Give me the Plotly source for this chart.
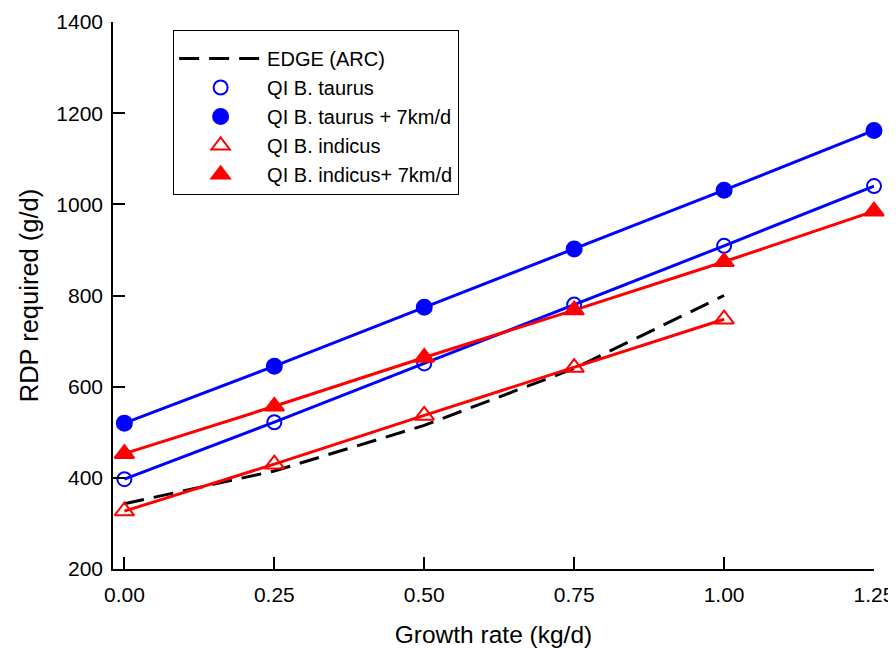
import plotly.graph_objects as go

# growth rate (kg/d)
growth = [0.0, 0.25, 0.50, 0.75, 1.00, 1.25]
growth_edge = [0.0, 0.25, 0.50, 0.75, 1.00]

# RDP required (g/d)
edge_arc = [343, 415, 515, 640, 800]
taurus = [397, 522, 651, 780, 909, 1040]
taurus_walk = [520, 645, 774, 902, 1031, 1162]
indicus = [327, 430, 537, 642, 748]
indicus_walk = [453, 557, 664, 768, 874, 985]

BLUE = "#0000ff"
RED = "#ff0000"

fig = go.Figure()

#EDGE line, dashed black
fig.add_trace(go.Scatter(x=growth_edge, y=edge_arc, mode="lines", name="EDGE (ARC)",
                         line=dict(color="black", width=3, dash="20px,10px")))

#QI series: line drawn separately so legend only shows marker
series = [
    ("QI B. taurus", growth, taurus, BLUE, "circle-open", 14),
    ("QI B. taurus + 7km/d", growth, taurus_walk, BLUE, "circle", 15),
    ("QI B. indicus", growth[:5], indicus, RED, "triangle-up-open", 17),
    ("QI B. indicus+ 7km/d", growth, indicus_walk, RED, "triangle-up", 17),
]
for name, xs, ys, col, sym, sz in series:
    fig.add_trace(go.Scatter(x=xs, y=ys, mode="lines", showlegend=False, cliponaxis=False,
                             line=dict(color=col, width=3)))
for name, xs, ys, col, sym, sz in series:
    fig.add_trace(go.Scatter(x=xs, y=ys, mode="markers", name=name, cliponaxis=False,
                             marker=dict(symbol=sym, size=sz, color=col,
                                         line=dict(color=col, width=2))))

# page body has an 8px margin, so figure is sized to fit inside the window
fig.update_layout(
    width=888, height=640,
    margin=dict(l=105, r=22, t=14, b=79),
    plot_bgcolor="white", paper_bgcolor="white",
    font=dict(family="Liberation Sans, Arial, sans-serif", size=21, color="black"),
    legend=dict(x=0.079, y=0.985, xanchor="left", yanchor="top",
                bordercolor="black", borderwidth=1, bgcolor="white",
                font=dict(size=20), itemwidth=83, tracegroupgap=0,
                title=dict(text=" ", font=dict(size=6))),
)
fig.update_xaxes(range=[-0.019, 1.25], tickvals=[0, 0.25, 0.5, 0.75, 1.0, 1.25],
                 ticktext=["0.00", "0.25", "0.50", "0.75", "1.00", "1.25"],
                 showline=True, linecolor="black", linewidth=1.5, showgrid=False, zeroline=False,
                 ticks="inside", ticklen=12, tickwidth=1.5, tickcolor="black",
                 ticklabelstandoff=6, automargin=False,
                 title=dict(text="Growth rate (kg/d)", font=dict(size=24.5), standoff=27))
fig.update_yaxes(range=[200, 1400], tickvals=[200, 400, 600, 800, 1000, 1200, 1400],
                 showline=True, linecolor="black", linewidth=1.5, showgrid=False, zeroline=False,
                 ticks="inside", ticklen=12, tickwidth=1.5, tickcolor="black",
                 ticklabelstandoff=4, automargin=False,
                 title=dict(text="RDP required (g/d)", font=dict(size=25.5), standoff=10))

fig.write_html("out.html")
